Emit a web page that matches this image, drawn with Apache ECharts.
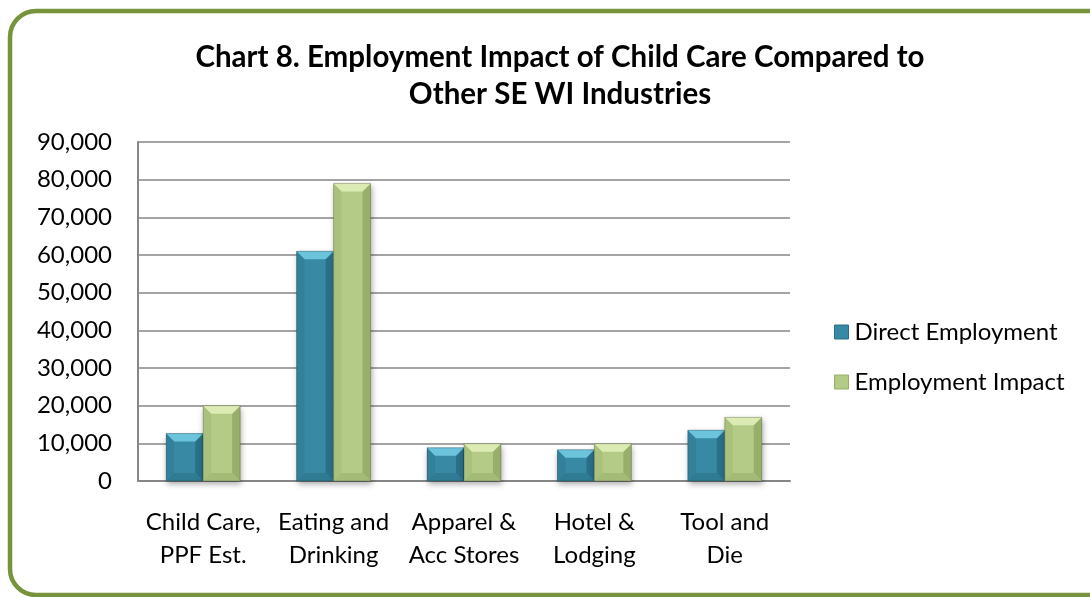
<!DOCTYPE html>
<html>
<head>
<meta charset="utf-8">
<script src="https://cdn.jsdelivr.net/npm/echarts@6/dist/echarts.min.js"></script>
<style>
  html, body { margin: 0; padding: 0; background: #ffffff; }
  #chart { width: 1090px; height: 597px; }
</style>
</head>
<body>
<div id="chart"></div>
<script>
// Industry categories (two-line labels)
const categories = [
  'Child Care,\nPPF Est.',
  'Eating and\nDrinking',
  'Apparel &\nAcc Stores',
  'Hotel &\nLodging',
  'Tool and\nDie'
];
const directEmployment = [12600, 61000, 8800, 8300, 13500];
const employmentImpact = [20000, 79000, 9900, 9900, 16900];
const yTicks = { min: 0, max: 90000, interval: 10000 };

const FONT = 'Lato, "Noto Sans", sans-serif';

// Bevelled column palettes: main face, top light, left side, right side, bottom
const palettes = {
  direct: { main: '#3889a3', top: '#6cc3dc', left: '#33809a', right: '#2a7088', bottom: '#2f7b93' },
  impact: { main: '#b3cb86', top: '#dcebb3', left: '#a9c17c', right: '#98ae6b', bottom: '#a4bb78' }
};

// Draws one bevelled column; side -1 sits left of the category centre, +1 right of it
function bevelBar(pal, side) {
  return function (params, api) {
    const idx = api.value(0);
    const val = api.value(1);
    const base = api.coord([idx, 0]);
    const top = api.coord([idx, val]);
    const bandW = api.size([1, 0])[0];
    const w = bandW * 0.2835;
    const x0 = side < 0 ? base[0] - w : base[0];
    const x1 = x0 + w;
    const y0 = top[1];
    const y1 = base[1];
    const h = y1 - y0;
    const b = Math.min(8, h / 2, w / 2);
    const poly = (pts, fill) => ({ type: 'polygon', shape: { points: pts }, style: { fill: fill } });
    return {
      type: 'group',
      children: [
        { type: 'rect', shape: { x: x0, y: y0, width: w, height: h },
          style: { fill: pal.main, shadowBlur: 6, shadowOffsetY: 3, shadowOffsetX: 1, shadowColor: 'rgba(0,0,0,0.35)' } },
        poly([[x0, y0], [x0 + b, y0 + b], [x0 + b, y1 - b], [x0, y1]], pal.left),
        poly([[x1, y0], [x1 - b, y0 + b], [x1 - b, y1 - b], [x1, y1]], pal.right),
        poly([[x0, y1], [x0 + b, y1 - b], [x1 - b, y1 - b], [x1, y1]], pal.bottom),
        poly([[x0, y0], [x1, y0], [x1 - b, y0 + b], [x0 + b, y0 + b]], pal.top),
        { type: 'rect', shape: { x: x0, y: y0, width: w, height: h },
          style: { fill: 'none', stroke: 'rgba(0,0,0,0.2)', lineWidth: 1 } }
      ]
    };
  };
}

const chart = echarts.init(document.getElementById('chart'), null, { renderer: 'canvas' });

chart.setOption({
  animation: false,
  backgroundColor: '#ffffff',
  graphic: [{
    type: 'rect',
    z: -1,
    shape: { x: 10, y: 11, width: 1120, height: 584, r: 26 },
    style: { fill: '#ffffff', stroke: '#77933c', lineWidth: 4.5 }
  }],
  title: {
    text: 'Chart 8. Employment Impact of Child Care Compared to\nOther SE WI Industries',
    left: 555,
    textAlign: 'center',
    top: 34,
    textStyle: {
      fontFamily: FONT,
      fontWeight: 'bold',
      fontSize: 29.5,
      lineHeight: 37,
      color: '#000000'
    }
  },
  legend: {
    orient: 'vertical',
    left: 829,
    top: 315,
    itemGap: 26,
    itemWidth: 14,
    itemHeight: 14,
    icon: 'rect',
    textStyle: { fontFamily: FONT, fontSize: 24, color: '#000000', padding: [0, 0, 0, 1] },
    data: [
      { name: 'Direct Employment', itemStyle: { color: palettes.direct.main, borderColor: palettes.direct.right, borderWidth: 1 } },
      { name: 'Employment Impact', itemStyle: { color: palettes.impact.main, borderColor: palettes.impact.right, borderWidth: 1 } }
    ]
  },
  grid: { left: 138, right: 300, top: 142, bottom: 116, containLabel: false },
  xAxis: {
    type: 'category',
    data: categories,
    axisLine: { show: true, lineStyle: { color: '#868686', width: 2 } },
    axisTick: { show: false },
    axisLabel: {
      fontFamily: FONT,
      fontSize: 24,
      lineHeight: 33,
      color: '#000000',
      margin: 25,
      interval: 0,
      align: 'center'
    }
  },
  yAxis: {
    type: 'value',
    min: yTicks.min,
    max: yTicks.max,
    interval: yTicks.interval,
    axisLine: { show: true, lineStyle: { color: '#868686', width: 2 } },
    axisTick: { show: false },
    splitLine: { show: true, lineStyle: { color: '#868686', width: 1.5 } },
    axisLabel: {
      fontFamily: FONT,
      fontSize: 24,
      color: '#000000',
      margin: 26,
      formatter: v => v.toLocaleString('en-US')
    }
  },
  series: [
    {
      name: 'Direct Employment',
      type: 'custom',
      itemStyle: { color: palettes.direct.main },
      renderItem: bevelBar(palettes.direct, -1),
      encode: { x: 0, y: 1 },
      data: directEmployment.map((v, i) => [i, v])
    },
    {
      name: 'Employment Impact',
      type: 'custom',
      itemStyle: { color: palettes.impact.main },
      renderItem: bevelBar(palettes.impact, 1),
      encode: { x: 0, y: 1 },
      data: employmentImpact.map((v, i) => [i, v])
    }
  ]
});
</script>
</body>
</html>
